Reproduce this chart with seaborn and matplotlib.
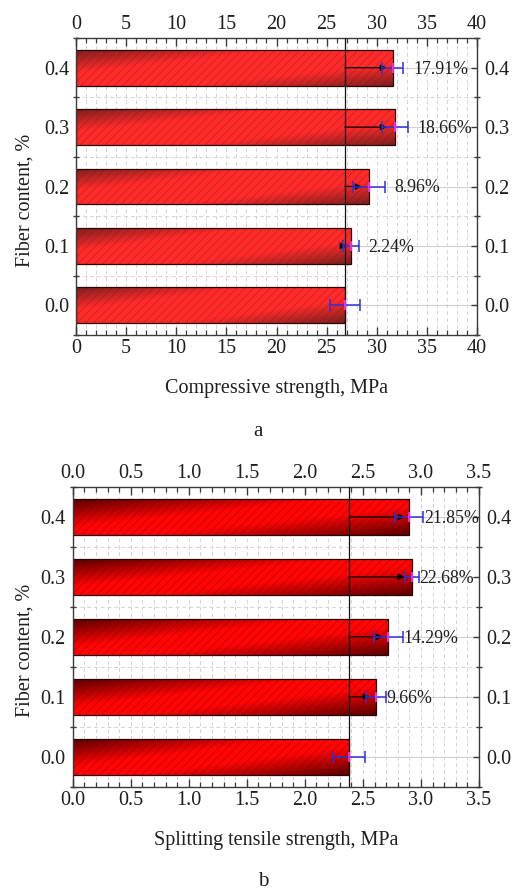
import numpy as np
import pandas as pd
import matplotlib
matplotlib.use("Agg")
import matplotlib.pyplot as plt
import seaborn as sns
from matplotlib.patches import Rectangle
from matplotlib.ticker import MultipleLocator, FixedLocator

# ---------------- data ----------------
cats = ["0.4", "0.3", "0.2", "0.1", "0.0"]

comp = [31.6, 31.8, 29.2, 27.4, 26.8]
comp_err = [1.05, 1.3, 1.6, 0.8, 1.5]
comp_arrow = [31.0, 31.0, 28.5, 27.0, None]
comp_pct = ["17.91%", "18.66%", "8.96%", "2.24%", ""]
comp_base = 26.8
comp_ticks = [0, 5, 10, 15, 20, 25, 30, 35, 40]

tens = [2.90, 2.92, 2.72, 2.61, 2.38]
tens_err = [0.12, 0.06, 0.125, 0.086, 0.14]
tens_arrow = [2.86, 2.86, 2.67, 2.56, None]
tens_pct = ["21.85%", "22.68%", "14.29%", "9.66%", ""]
tens_base = 2.38
tens_ticks = [0.0, 0.5, 1.0, 1.5, 2.0, 2.5, 3.0, 3.5]

sns.set_style("ticks")
plt.rcParams["font.family"] = ["Liberation Serif", "DejaVu Serif"]
plt.rcParams["hatch.linewidth"] = 0.45

W, H = 516, 893
fig = plt.figure(figsize=(W / 100, H / 100), dpi=100)
fig.patch.set_facecolor("white")

TXT = "#1e1e1e"
FS = 14.5


def px_axes(l, t, r, b):
    return [l / W, 1 - b / H, (r - l) / W, (b - t) / H]


def draw_panel(ax, vals, errs, arrows, pcts, base, ticks, minor, xlabel,
               dark, bright, hatch_col, gain, fmt, pct_offset, xlab_y, ylab_y, letter, letter_xy):
    df = pd.DataFrame({"cat": cats, "val": vals})
    sns.barplot(data=df, x="val", y="cat", order=cats, orient="h", color="red",
                width=0.6, errorbar=None, ax=ax)
    ax.set_axisbelow(True)
    dark = np.array(matplotlib.colors.to_rgb(dark))
    bright = np.array(matplotlib.colors.to_rgb(bright))
    hh, ww = 40, 200
    u = np.linspace(0, 1, ww)[None, :]
    v = np.linspace(0, 1, hh)[:, None]
    t = 0.5 * u + 0.5 * v
    f = 1 - np.abs(2 * t - 1)
    f = np.clip(f * gain, 0, 1)
    img = dark[None, None, :] * (1 - f[..., None]) + bright[None, None, :] * f[..., None]
    for p in list(ax.patches):
        x0, y0, w, h = p.get_x(), p.get_y(), p.get_width(), p.get_height()
        im = ax.imshow(img, extent=(x0, x0 + w, y0 + h, y0), origin="upper",
                       aspect="auto", zorder=1.5, interpolation="bilinear")
        im.set_clip_path(p)
        hr = Rectangle((x0, y0), w, h, facecolor="none", edgecolor=hatch_col,
                       hatch="////", lw=0, zorder=1.6)
        ax.add_patch(hr)
        p.set_facecolor("none")
        p.set_edgecolor("#2a0505")
        p.set_linewidth(0.9)
        p.set_zorder(1.7)

    ypos = np.arange(len(cats))
    ax.axvline(base, color="#111111", lw=0.9, zorder=3)
    for i, a in enumerate(arrows):
        if a is not None:
            ax.annotate("", xy=(a, i), xytext=(base, i),
                        arrowprops=dict(arrowstyle="-|>", color="black", lw=0.9,
                                        mutation_scale=9, shrinkA=0, shrinkB=0),
                        zorder=4)
    ax.errorbar(vals, ypos, xerr=errs, fmt="none", ecolor="#3030d8",
                elinewidth=1.1, capsize=4, capthick=1.1, zorder=5)
    ax.plot(vals, ypos, ls="none", marker="|", markersize=7, color="#ff30ff",
            markeredgewidth=1.2, zorder=5)
    for i, (s, vv, e) in enumerate(zip(pcts, vals, errs)):
        if s:
            ax.annotate(s, xy=(vv + e, i), xytext=(pct_offset, -1),
                        textcoords="offset points", ha="left", va="center",
                        fontsize=12.8, color=TXT, zorder=6)

    ax.set_xlim(ticks[0], ticks[-1])
    ax.set_ylim(len(cats) - 0.5, -0.5)
    ax.set_xticks(ticks)
    ax.set_xticklabels([fmt.format(t) for t in ticks])
    ax.xaxis.set_minor_locator(MultipleLocator(minor))
    ax.set_yticks(ypos)
    ax.set_yticklabels(cats)
    ax.yaxis.set_minor_locator(FixedLocator(np.arange(-0.5, len(cats), 1.0)))
    ax.set_xlabel("")
    ax.set_ylabel("")

    ax.grid(which="both", axis="x", ls=(0, (4, 3)), color="#d4d4d4", lw=0.7)
    ax.grid(which="major", axis="y", ls="-", color="#d0d0d0", lw=0.8)
    ax.grid(which="minor", axis="y", ls=(0, (4, 3)), color="#d4d4d4", lw=0.7)

    for s in ax.spines.values():
        s.set_visible(True)
        s.set_color("#3a3a3a")
        s.set_linewidth(1.0)
    ax.tick_params(axis="both", which="both", direction="in", top=True, right=True,
                   labeltop=True, labelright=True, colors="#3a3a3a",
                   labelcolor=TXT, labelsize=FS)
    ax.tick_params(axis="x", which="major", length=6, width=1.0, pad=3)
    ax.tick_params(axis="x", which="minor", length=3.5, width=0.9)
    ax.tick_params(axis="y", which="major", length=4, width=1.0, pad=5)
    ax.tick_params(axis="y", which="minor", length=5, width=1.0, direction="inout")

    cx = (ax.get_position().x0 + ax.get_position().x1) / 2
    fig.text(cx, 1 - xlab_y / H, xlabel, ha="center", va="center",
             fontsize=FS, color=TXT)
    fig.text(25.5 / W, 1 - ylab_y / H, "Fiber content, %", rotation=90,
             ha="center", va="center", fontsize=FS, color=TXT)
    fig.text(letter_xy[0] / W, 1 - letter_xy[1] / H, letter, ha="center",
             va="center", fontsize=15, color=TXT)


ax_a = fig.add_axes(px_axes(76, 38, 477, 335))
draw_panel(ax_a, comp, comp_err, comp_arrow, comp_pct, comp_base, comp_ticks, 1,
           "Compressive strength, MPa", "#7e2020", "#ff2b2b", (0.55, 0.05, 0.05, 0.5),
           1.6, "{:g}", 7, 388, 200, "a", (258, 432))

ax_b = fig.add_axes(px_axes(72.7, 487, 479, 786.7))
draw_panel(ax_b, tens, tens_err, tens_arrow, tens_pct, tens_base, tens_ticks, 0.1,
           "Splitting tensile strength, MPa", "#5a0000", "#ff0505", (0.5, 0.0, 0.0, 0.55),
           1.3, "{:.1f}", 0.5, 840, 650, "b", (263, 882))

fig.savefig("out.png", dpi=100, facecolor="white")
